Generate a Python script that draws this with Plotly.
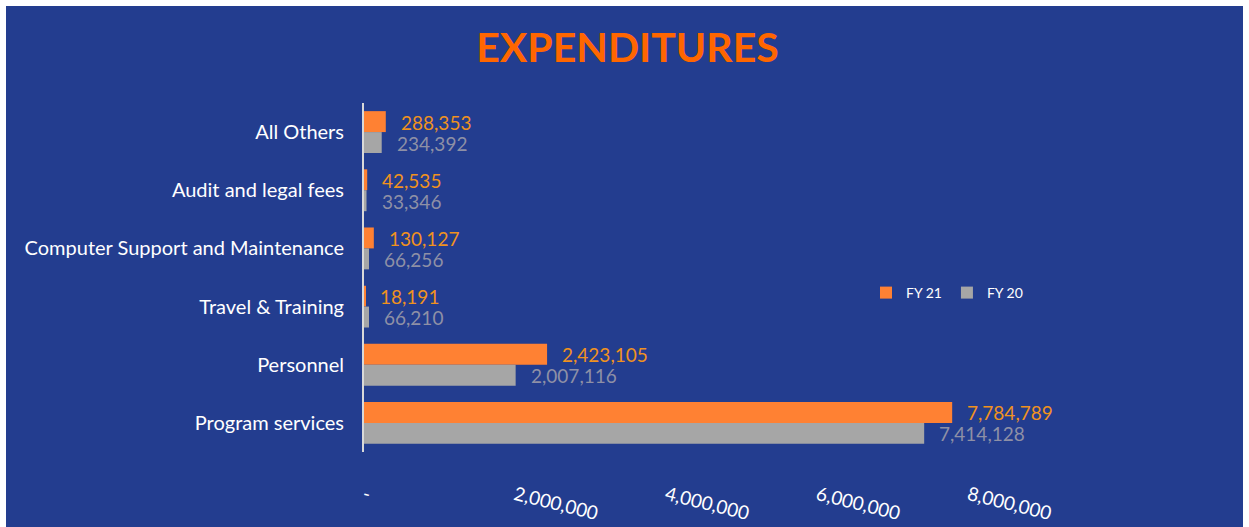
import plotly.graph_objects as go

categories = ["All Others", "Audit and legal fees", "Computer Support and Maintenance",
              "Travel & Training", "Personnel", "Program services"]
fy21 = [288353, 42535, 130127, 18191, 2423105, 7784789]
fy20 = [234392, 33346, 66256, 66210, 2007116, 7414128]
tick_vals = [0, 2000000, 4000000, 6000000, 8000000]
tick_text = ["-", "2,000,000", "4,000,000", "6,000,000", "8,000,000"]

BG = "#233D8F"
ORANGE = "#FF8133"
GRAY = "#A6A6A6"
ORANGE_TXT = "#F0921E"
GRAY_TXT = "#8E90A6"
FONT = "Lato"

OFF = 6  # page margin (white border)
W, H = 1249 - OFF, 527 - OFF
ML, MR, MT, MB = 364 - OFF, 205, 103 - OFF, 75
XMAX = 9000000

fig = go.Figure()
fig.add_trace(go.Bar(y=categories, x=fy21, name="FY 21", orientation="h",
                     marker=dict(color=ORANGE, line=dict(width=0))))
fig.add_trace(go.Bar(y=categories, x=fy20, name="FY 20", orientation="h",
                     marker=dict(color=GRAY, line=dict(width=0))))

annotations = []
for c, v in zip(categories, fy21):
    annotations.append(dict(x=v, y=c, xref="x", yref="y", text=f"{v:,}", showarrow=False,
                            xanchor="left", yanchor="middle", xshift=14, yshift=10,
                            borderpad=0,
                            font=dict(family=FONT, size=19, color=ORANGE_TXT)))
for c, v in zip(categories, fy20):
    annotations.append(dict(x=v, y=c, xref="x", yref="y", text=f"{v:,}", showarrow=False,
                            xanchor="left", yanchor="middle", xshift=14, yshift=-11,
                            borderpad=0,
                            font=dict(family=FONT, size=19, color=GRAY_TXT)))

pw = W - ML - MR
ph = H - MT - MB
def px2x(p):
    return (p - OFF - ML) / pw
def py2y(p):
    return (H - MB - (p - OFF)) / ph

fig.update_layout(
    width=W, height=H,
    margin=dict(l=ML, r=MR, t=MT, b=MB, pad=0, autoexpand=False),
    paper_bgcolor=BG, plot_bgcolor=BG,
    barmode="group", bargap=0.28, bargroupgap=0,
    title=dict(text="<b>EXPENDITURES</b>", x=0.5, xanchor="center",
               y=1 - (48 - OFF) / H, yanchor="middle",
               font=dict(family=FONT, size=41, color="#FF6600")),
    font=dict(family=FONT, color="white"),
    legend=dict(orientation="h", x=px2x(866), xanchor="left", y=py2y(293), yanchor="middle",
                font=dict(family=FONT, size=14, color="white"), bgcolor="rgba(0,0,0,0)",
                itemwidth=30, tracegroupgap=0),
    xaxis=dict(range=[0, XMAX], showgrid=False, zeroline=False, showline=False,
               automargin=False,
               tickvals=tick_vals, ticktext=tick_text, tickangle=14,
               ticks="outside", ticklen=24, tickcolor="rgba(0,0,0,0)",
               tickfont=dict(family=FONT, size=19, color="white")),
    yaxis=dict(autorange="reversed", showgrid=False, zeroline=False, automargin=False,
               showline=True, linecolor="#D9D9D9", linewidth=2,
               ticks="outside", ticklen=14, tickcolor="rgba(0,0,0,0)",
               tickfont=dict(family=FONT, size=20, color="white")),
    annotations=annotations,
    showlegend=True,
)

fig.write_html("out.html",
               post_script="document.body.style.margin='%dpx';document.body.style.overflow='hidden';" % OFF)
